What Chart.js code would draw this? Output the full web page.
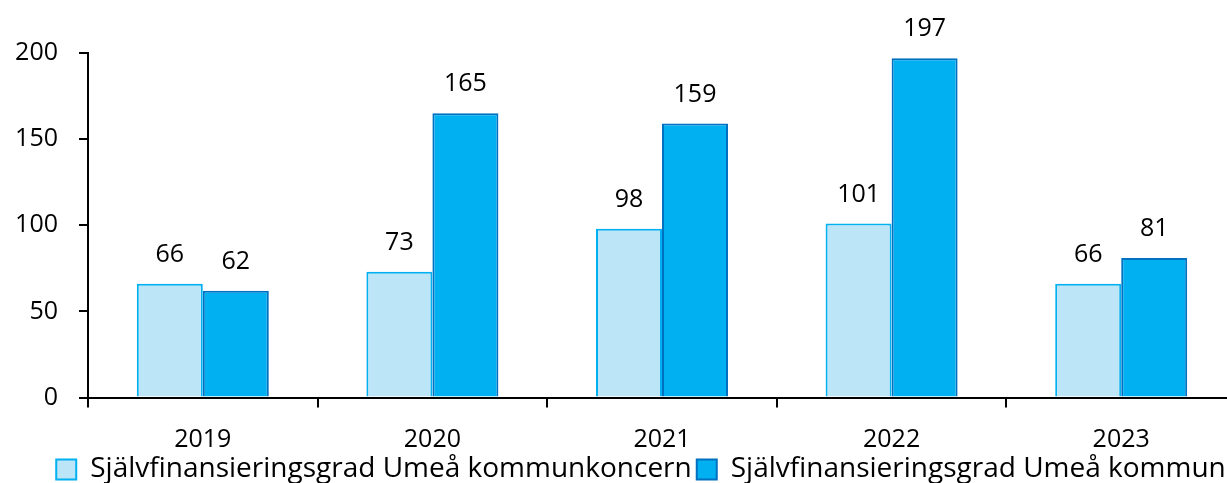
<!DOCTYPE html>
<html>
<head>
<meta charset="utf-8">
<script src="https://cdn.jsdelivr.net/npm/chart.js@4.4.0/dist/chart.umd.min.js"></script>
<style>
html,body{margin:0;padding:0;overflow:hidden;background:#fff;width:1227px;height:483px;}
#wrap{position:absolute;left:0;top:0;width:1280px;height:483px;}
</style>
</head>
<body>
<div id="wrap"><canvas id="c" width="1280" height="483"></canvas></div>
<script>
const categories = ['2019','2020','2021','2022','2023'];
const seriesNames = ['Självfinansieringsgrad Umeå kommunkoncern','Självfinansieringsgrad Umeå kommun'];
const koncernValues = [66, 73, 98, 101, 66];
const kommunValues = [62, 165, 159, 197, 81];
const yTicks = [0, 50, 100, 150, 200];

const FONT = '"Open Sans", Lato, sans-serif';

const labelPlugin = {
  id: 'valueLabels',
  afterLayout(chart) {
    // centre the legend under the reference's visible width
    if (chart.legend) { chart.legend.left += 46; }
  },
  afterDatasetsDraw(chart) {
    const ctx = chart.ctx;
    ctx.save();
    ctx.font = '25px ' + FONT;
    ctx.fillStyle = '#000';
    ctx.textAlign = 'center';
    ctx.textBaseline = 'middle';
    chart.data.datasets.forEach((ds, i) => {
      chart.getDatasetMeta(i).data.forEach((bar, j) => {
        ctx.fillText(String(ds.data[j]), bar.x, bar.y - 29);
      });
    });
    ctx.restore();
  }
};

new Chart(document.getElementById('c'), {
  type: 'bar',
  data: {
    labels: categories,
    datasets: [
      {label: seriesNames[0], data: koncernValues, backgroundColor: '#BDE5F8', borderColor: '#00B0F0', borderWidth: 2, borderSkipped: 'bottom'},
      {label: seriesNames[1], data: kommunValues, backgroundColor: '#00B0F0', borderColor: '#0070C0', borderWidth: 2, borderSkipped: 'bottom'}
    ]
  },
  options: {
    responsive: false,
    animation: false,
    layout: {padding: {left: 0, right: 44, top: 53, bottom: -10.5}},
    categoryPercentage: 0.575,
    barPercentage: 1,
    plugins: {
      tooltip: {enabled: false},
      legend: {
        position: 'bottom',
        labels: {
          font: {size: 28, family: FONT, lineHeight: 1},
          color: '#000',
          boxWidth: 20,
          boxHeight: 20,
          padding: 5
        }
      }
    },
    scales: {
      x: {
        offset: true,
        grid: {display: true, offset: true, drawOnChartArea: false, tickLength: 10, color: '#000', lineWidth: 2},
        border: {display: true, color: '#000', width: 2},
        ticks: {font: {size: 25, family: FONT}, color: '#000', padding: 17, maxRotation: 0},
        afterFit(s) { s.height = 53; }
      },
      y: {
        min: 0, max: 200,
        afterBuildTicks(s) { s.ticks = yTicks.map(v => ({value: v})); },
        grid: {display: true, drawOnChartArea: false, tickLength: 9, color: '#000', lineWidth: 2},
        border: {display: true, color: '#000', width: 2},
        ticks: {font: {size: 25, family: FONT}, color: '#000', padding: 21},
        afterFit(s) { s.width = 88; }
      }
    }
  },
  plugins: [labelPlugin]
});
</script>
</body>
</html>
